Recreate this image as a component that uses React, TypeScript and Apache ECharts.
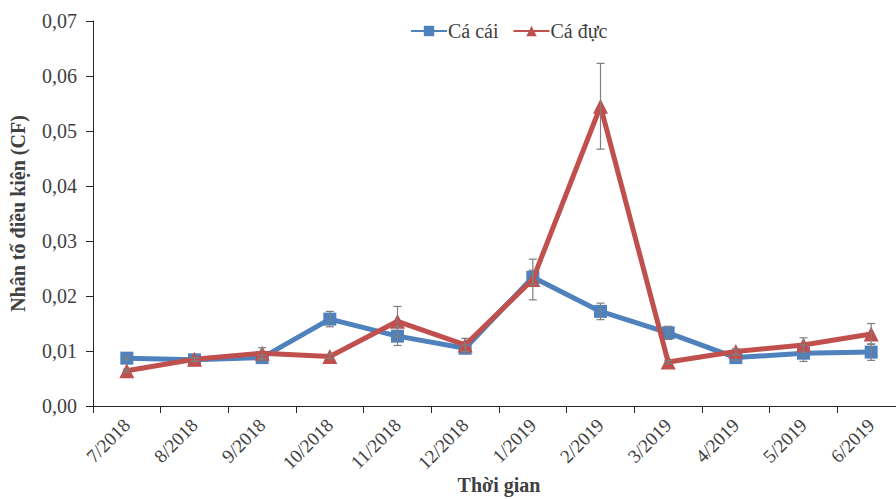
import React, { useEffect, useRef } from "react";
import * as echarts from "echarts";

const categories = ["7/2018", "8/2018", "9/2018", "10/2018", "11/2018", "12/2018", "1/2019", "2/2019", "3/2019", "4/2019", "5/2019", "6/2019"];
const caCai = [0.0087, 0.0084, 0.0088, 0.0158, 0.0127, 0.0105, 0.0234, 0.0172, 0.0133, 0.0088, 0.0096, 0.0098];
const caCaiErr = [0.0003, 0.0003, 0.0004, 0.0014, 0.0017, 0.0006, 0.0013, 0.0015, 0.0012, 0.0005, 0.0015, 0.0015];
const caDuc = [0.0064, 0.0085, 0.0096, 0.0090, 0.0154, 0.0111, 0.0230, 0.0545, 0.0080, 0.0099, 0.0111, 0.0131];
const caDucErr = [0.0003, 0.0003, 0.0010, 0.0004, 0.0027, 0.0012, 0.0037, 0.0078, 0.0003, 0.0005, 0.0013, 0.0019];
const yTicks = { min: 0, max: 0.07, interval: 0.01 };

const FONT = "'Liberation Serif', 'Times New Roman', serif";
const TEXT = "#404040";
const AXIS = "#262626";

function errData(vals: number[], errs: number[]) {
  return vals.map((v, i) => [i, v - errs[i], v + errs[i]]);
}

function errRender(params: any, api: any) {
  const i = api.value(0);
  const lo = api.coord([i, api.value(1)]);
  const hi = api.coord([i, api.value(2)]);
  const w = 4;
  const st = { stroke: "#7f7f7f", lineWidth: 1.2 };
  return {
    type: "group",
    children: [
      { type: "line", shape: { x1: lo[0], y1: lo[1], x2: hi[0], y2: hi[1] }, style: st },
      { type: "line", shape: { x1: lo[0] - w, y1: lo[1], x2: lo[0] + w, y2: lo[1] }, style: st },
      { type: "line", shape: { x1: hi[0] - w, y1: hi[1], x2: hi[0] + w, y2: hi[1] }, style: st },
    ],
  };
}

export default function App() {
  const ref = useRef<HTMLDivElement>(null);
  useEffect(() => {
    if (!ref.current) return;
    const chart = echarts.init(ref.current, null, { renderer: "svg" });
    chart.setOption({
      animation: false,
      textStyle: { fontFamily: FONT },
      legend: {
        top: 16,
        left: 405,
        itemWidth: 36,
        itemHeight: 13,
        itemGap: 14,
        data: ["Cá cái", "Cá đực"],
        textStyle: { fontFamily: FONT, fontSize: 20, color: TEXT, padding: [0, 0, 0, -4] },
      },
      grid: { left: 93, right: -9, top: 21, bottom: 93, containLabel: false, outerBoundsMode: "none" },
      xAxis: {
        type: "category",
        data: categories,
        boundaryGap: true,
        axisLine: { lineStyle: { color: AXIS, width: 1 } },
        axisTick: { show: true, length: 7, alignWithLabel: false, lineStyle: { color: AXIS } },
        axisLabel: { rotate: 45, fontFamily: FONT, fontSize: 19, color: TEXT, margin: 16, interval: 0 },
        name: "Thời gian",
        nameLocation: "middle",
        nameGap: 68,
        nameMoveOverlap: false,
        nameTextStyle: { fontFamily: FONT, fontSize: 20, fontWeight: "bold", color: TEXT, lineHeight: 22 },
      },
      yAxis: {
        type: "value",
        min: yTicks.min,
        max: yTicks.max,
        interval: yTicks.interval,
        splitLine: { show: false },
        axisLine: { show: true, lineStyle: { color: AXIS, width: 1 } },
        axisTick: { show: true, length: 7, lineStyle: { color: AXIS } },
        axisLabel: {
          fontFamily: FONT,
          fontSize: 20,
          color: TEXT,
          margin: 16,
          formatter: (v: number) => v.toFixed(2).replace(".", ","),
        },
        name: "Nhân tố điều kiện (CF)",
        nameLocation: "middle",
        nameGap: 65,
        nameMoveOverlap: false,
        nameTextStyle: { fontFamily: FONT, fontSize: 20, fontWeight: "bold", color: TEXT },
      },
      series: [
        {
          name: "Cá cái",
          type: "line",
          data: caCai,
          symbol: "rect",
          symbolSize: 13,
          lineStyle: { color: "#4f81bd", width: 5 },
          itemStyle: { color: "#4f81bd" },
          z: 2,
        },
        {
          name: "Cá đực",
          type: "line",
          data: caDuc,
          symbol: "triangle",
          symbolSize: 15,
          lineStyle: { color: "#c0504d", width: 5 },
          itemStyle: { color: "#c0504d" },
          z: 3,
        },
        {
          type: "custom",
          name: "err1",
          data: errData(caCai, caCaiErr),
          renderItem: errRender,
          encode: { x: 0, y: [1, 2] },
          z: 4,
          silent: true,
        },
        {
          type: "custom",
          name: "err2",
          data: errData(caDuc, caDucErr),
          renderItem: errRender,
          encode: { x: 0, y: [1, 2] },
          z: 4,
          silent: true,
        },
      ],
    });
    return () => chart.dispose();
  }, []);
  return <div ref={ref} style={{ position: "absolute", left: 0, top: 0, width: 896, height: 499 }} />;
}
